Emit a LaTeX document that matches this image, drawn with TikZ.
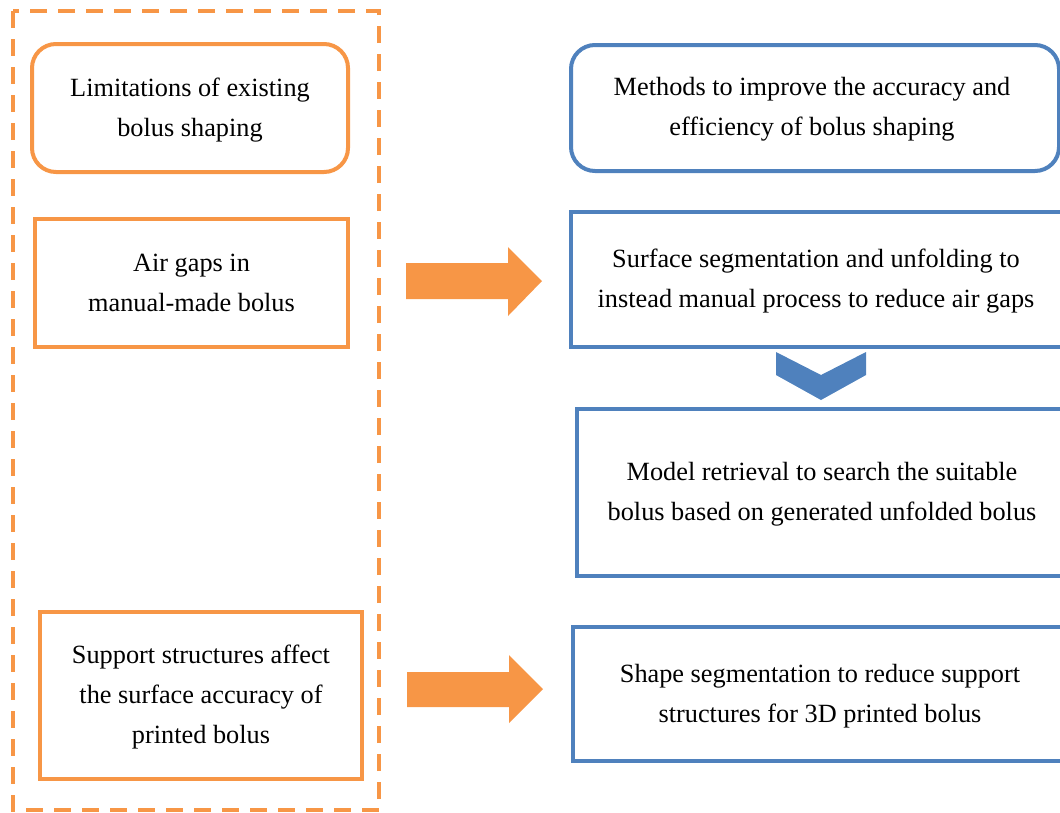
\documentclass[tikz,border=0pt]{standalone}
\usepackage{fontspec}
\setmainfont{Liberation Serif}
\begin{document}
\definecolor{boxorange}{HTML}{F79646}
\definecolor{boxblue}{HTML}{4F81BD}
\begin{tikzpicture}[x=1pt,y=-1pt,
  font=\fontsize{26.3}{40}\selectfont,
  obox/.style={draw=boxorange,line width=4pt,inner sep=0pt,anchor=north west},
  bbox/.style={draw=boxblue,line width=4pt,inner sep=0pt,anchor=north west},
  txt/.style={align=center,inner sep=0pt},
  orangearrow/.style={fill=boxorange,draw=none},
  bluechevron/.style={fill=boxblue,draw=none}]
\useasboundingbox (0,0) rectangle (1060,812);
\clip (0,0) rectangle (1060,812);

% dashed frame around the limitations column
\draw[boxorange,line width=4pt,dash pattern=on 17pt off 11pt] (13,11) rectangle (379,810);

% left column: limitations
\node[obox,rounded corners=24pt,minimum width=316pt,minimum height=128pt] (lim) at (30,42) {};
\node[txt] (limt) at ([yshift=-2pt]lim.center) {Limitations of existing\\bolus shaping};

\node[obox,minimum width=313pt,minimum height=128pt] (air) at (33,217) {};
\node[txt] (airt) at (air.center) {Air gaps in\\manual-made bolus};

\node[obox,minimum width=322pt,minimum height=167pt] (sup) at (38,610) {};
\node[txt] (supt) at ([yshift=-1.5pt]sup.center) {Support structures affect\\the surface accuracy of\\printed bolus};

% right column: methods
\node[bbox,rounded corners=24pt,minimum width=488pt,minimum height=126pt] (meth) at (569,43) {};
\node[txt] (metht) at (812,109) {Methods to improve the accuracy and\\efficiency of bolus shaping};

\node[bbox,minimum width=520pt,minimum height=135pt] (seg) at (569,210) {};
\node[txt] (segt) at (816,281) {Surface segmentation and unfolding to\\instead manual process to reduce air gaps};

\node[bbox,minimum width=520pt,minimum height=167pt] (ret) at (575,407) {};
\node[txt] (rett) at (822,494) {Model retrieval to search the suitable\\bolus based on generated unfolded bolus};

\node[bbox,minimum width=520pt,minimum height=134pt] (shp) at (571,625) {};
\node[txt] (shpt) at (820,696) {Shape segmentation to reduce support\\structures for 3D printed bolus};

% block arrows from limitations to methods
\fill[orangearrow] (406,263) -- (508,263) -- (508,247) -- (542,281) -- (508,316)
  -- (508,299) -- (406,299) -- cycle;
\fill[orangearrow] (407,672) -- (509,672) -- (509,655) -- (543,689) -- (509,723)
  -- (509,707) -- (407,707) -- cycle;

% chevron between segmentation and retrieval
\fill[bluechevron] (776,352) -- (821,375) -- (866,352) -- (866,375) -- (821,400)
  -- (776,375) -- cycle;
\end{tikzpicture}
\end{document}
